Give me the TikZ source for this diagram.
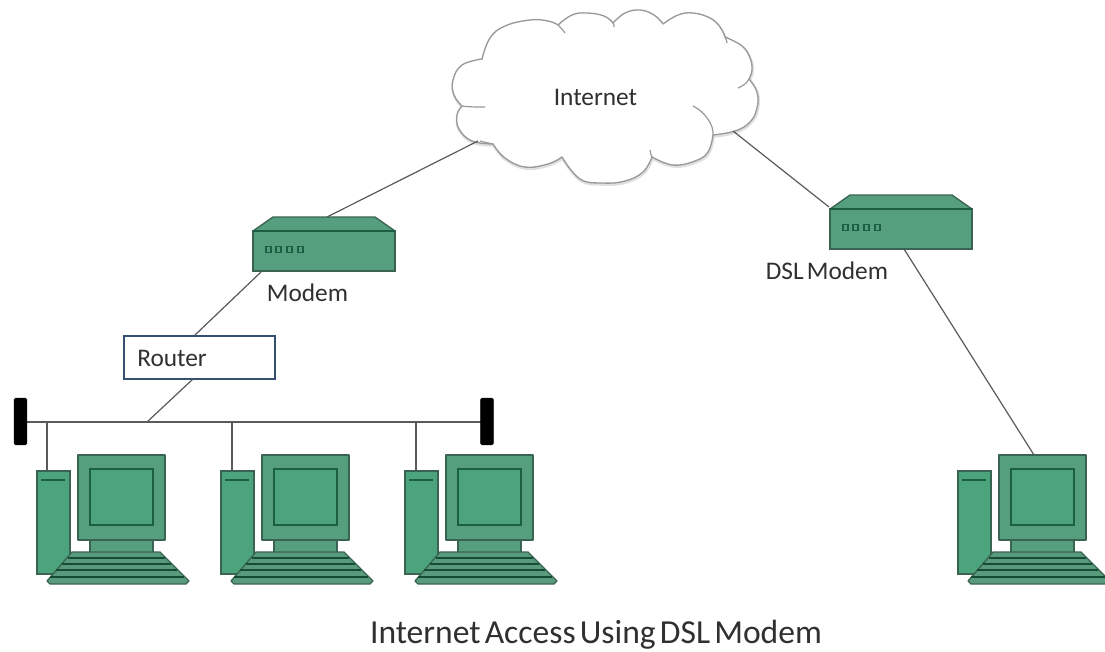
\documentclass[tikz,border=0pt]{standalone}
\usepackage{fontspec}
\setmainfont[WordSpace=0.55]{Carlito}
\usetikzlibrary{calc}
\definecolor{gfill}{HTML}{559E7E}
\definecolor{gscreen}{HTML}{4CA47C}
\definecolor{gline}{HTML}{3A6452}
\definecolor{gdark}{HTML}{1B5E42}
\definecolor{gkey}{HTML}{5A9A7C}
\definecolor{wirec}{HTML}{5A5A5A}
\definecolor{txt}{HTML}{303030}
\definecolor{rbox}{HTML}{35506E}
\tikzset{
  x=0.75pt,y=-0.75pt,
  gpart/.style={fill=gfill,draw=gline,line width=1pt,line join=round},
  wire/.style={draw=wirec,line width=0.9pt},
  label/.style={text=txt,inner sep=0pt,font=\fontsize{19}{22}\selectfont},
  term/.style={fill=black,draw=black,rounded corners=1pt,line width=0.3pt},
  pics/computer/.style={code={
    \path[fill=gscreen,draw=gline,line width=1pt] (37,471) rectangle (70,574);
    \draw[gdark,line width=1.4pt] (41,480) -- (65,480);
    \path[gpart] (78,455) rectangle (165,540);
    \path[fill=gscreen,draw=gdark,line width=1pt] (90,469) rectangle (153,525);
    \path[gpart] (90,540) rectangle (153,553);
    \path[fill=gkey,draw=gline,line width=1pt,line join=round] (72,552) -- (160,552) -- (189,581) -- (186,584) -- (50,584) -- (47,581) -- cycle;
    \foreach \yy/\xl/\xr in {558/68/165,564/62/171,570/56/177,577/50/184}
      \draw[draw=gdark!80!black,line width=1pt] (\xl,\yy) -- (\xr,\yy);
  }},
  pics/modembox/.style={code={
    \path[gpart] (253,231) -- (273,217) -- (375,217) -- (395,231) -- cycle;
    \path[fill=gfill,draw=gline,line width=1pt] (253,231) rectangle (395,271);
    \draw[gdark,line width=1.1pt] (253,231) -- (395,231);
    \foreach \xx in {266,276,287,298}
      \draw[gdark,line width=0.9pt] (\xx,246.5) rectangle ++(5,6);
  }}
}
\begin{document}
\begin{tikzpicture}
\useasboundingbox (0,0) rectangle (1105,651);
\fill[white] (0,0) rectangle (1105,651);
% cloud
\def\cloudpath{
  plot[smooth,tension=0.7] coordinates {(482,59) (490,38) (505,26) (530,20) (548,21) (558,25)}
  -- plot[smooth,tension=0.7] coordinates {(558,25) (572,15) (587,13) (604,16) (613,23)}
  -- plot[smooth,tension=0.7] coordinates {(613,23) (625,13) (640,10) (654,15) (663,24)}
  -- plot[smooth,tension=0.7] coordinates {(663,24) (678,15) (693,13) (710,18) (720,27) (725,37)}
  -- plot[smooth,tension=0.7] coordinates {(725,37) (742,46) (750,58) (752,70) (749,79)}
  -- plot[smooth,tension=0.7] coordinates {(749,79) (757,92) (757,108) (750,122) (735,131) (713,135)}
  -- plot[smooth,tension=0.7] coordinates {(713,135) (708,152) (695,161) (673,165) (652,157)}
  -- plot[smooth,tension=0.7] coordinates {(652,157) (643,172) (625,181) (603,183) (580,179) (562,157)}
  -- plot[smooth,tension=0.7] coordinates {(562,157) (548,164) (525,167) (505,158) (493,144)}
  -- plot[smooth,tension=0.7] coordinates {(493,144) (472,141) (459,129) (457,115) (462,106)}
  -- plot[smooth,tension=0.7] coordinates {(462,106) (454,95) (453,80) (462,65) (482,59)} -- cycle}
\path[draw=black!12,line width=2.2pt,transform canvas={xshift=0.4pt,yshift=-1pt}] \cloudpath;
\path[fill=white,draw=black!40,line width=1pt,line join=round] \cloudpath;
\draw[black!40,line width=0.9pt]
  (558,25) .. controls (560,27) and (563,30) .. (565,33)
  (613,23) .. controls (614,24) and (614,26) .. (614,27)
  (725,37) .. controls (726,39) and (727,41) .. (727,43)
  (749,79) .. controls (747,83) and (743,86) .. (738,88)
  (713,135) .. controls (714,125) and (705,112) .. (693,106)
  (652,157) .. controls (651,155) and (650,152) .. (650,150)
  (493,144) .. controls (488,143) and (484,142) .. (480,141)
  (462,106) .. controls (468,107) and (477,107) .. (485,107);
\node[label] (inet) at (595.5,97) {Internet};
% anchor coordinates
\coordinate (cloudL) at (478,141);
\coordinate (cloudR) at (733,131);
\coordinate (mdTop) at (327,217);
\coordinate (mdBot) at (261,272);
\coordinate (dslTop) at (829,207);
\coordinate (dslBot) at (904,249);
\coordinate (pcD) at (1034,455);
\coordinate (busL) at (25,422);
\coordinate (busR) at (482,422);
\coordinate (busJ) at (147,422);
\coordinate (drop1) at (47,422);
\coordinate (drop2) at (232,422);
\coordinate (drop3) at (416,422);
\coordinate (pc1) at (47,471);
\coordinate (pc2) at (232,471);
\coordinate (pc3) at (416,471);
% router
\node[draw=rbox,line width=1.5pt,fill=white,minimum width=113pt,minimum height=32.5pt,inner sep=0pt,anchor=north west] (router) at (123,335) {};
\node[label,anchor=west] (routerlabel) at (137,358) {Router};
\coordinate (rtTop) at (195,335);
\coordinate (rtBot) at (193,379);
% wires
\draw[wire] (cloudL) -- (mdTop);
\draw[wire] (cloudR) -- (dslTop);
\draw[wire] (mdBot) -- (rtTop);
\draw[wire] (rtBot) -- (busJ);
\draw[wire] (dslBot) -- (pcD);
\draw[wire] (busL) -- (busR);
\draw[wire] (drop1) -- (pc1);
\draw[wire] (drop2) -- (pc2);
\draw[wire] (drop3) -- (pc3);
\node[term,minimum width=9.5pt,minimum height=35pt,inner sep=0pt] (t1) at (20.5,421.5) {};
\node[term,minimum width=9.5pt,minimum height=35pt,inner sep=0pt] (t2) at (487,421.5) {};
% devices
\pic at (0,0) {modembox};
\pic at (577,-22) {modembox};
\node[label] (mlabel) at (307.5,293) {Modem};
\node[label] (dlabel) at (827,271) {DSL Modem};
\pic at (0,0) {computer};
\pic at (184,0) {computer};
\pic at (368,0) {computer};
\pic at (921,0) {computer};
\node[label,font=\fontsize{25.2}{30}\selectfont,anchor=base] (title) at (596,643) {Internet Access Using DSL Modem};
\end{tikzpicture}
\end{document}
